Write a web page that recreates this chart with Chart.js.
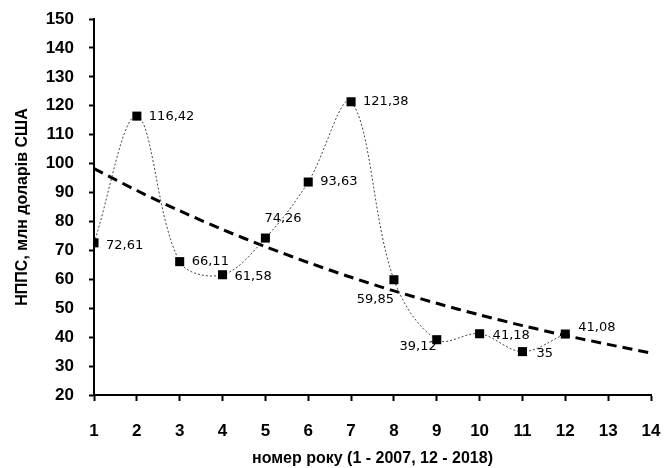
<!DOCTYPE html>
<html>
<head>
<meta charset="utf-8">
<script src="https://cdn.jsdelivr.net/npm/chart.js@4/dist/chart.umd.min.js"></script>
<style>
  html, body { margin: 0; padding: 0; background: #fff; }
  #wrap { width: 668px; height: 468px; }
</style>
</head>
<body>
<div id="wrap"><canvas id="grafico"></canvas></div>
<script>
// Дані (номер року 1 = 2007 ... 12 = 2018)
const roky = [1, 2, 3, 4, 5, 6, 7, 8, 9, 10, 11, 12];
const npps = [72.61, 116.42, 66.11, 61.58, 74.26, 93.63, 121.38, 59.85, 39.12, 41.18, 35, 41.08];

// Експоненційний тренд
const trendRoky = [1, 2, 3, 4, 5, 6, 7, 8, 9, 10, 11, 12, 13, 14];
const trend = [98.3, 90.7, 83.7, 77.2, 71.3, 65.8, 60.7, 56.0, 51.7, 47.7, 44.0, 40.6, 37.5, 34.5];

// Підписи осей
const yTicks = { min: 20, max: 150, step: 10 };
const xTicks = { min: 1, max: 14, step: 1 };

// Розташування підписів значень відносно маркерів
const pidpysy = [
    { dx: 12, dy: 3, align: 'left' },
    { dx: 12, dy: 1, align: 'left' },
    { dx: 12, dy: 0, align: 'left' },
    { dx: 12, dy: 2, align: 'left' },
    { dx: -1, dy: -19, align: 'left' },
    { dx: 12, dy: 0, align: 'left' },
    { dx: 12, dy: 0, align: 'left' },
    { dx: 0, dy: 20, align: 'right' },
    { dx: 0, dy: 7, align: 'right' },
    { dx: 13, dy: 2, align: 'left' },
    { dx: 14, dy: 2, align: 'left' },
    { dx: 13, dy: -6, align: 'left' }
];

const formatUA = (v) => String(v).replace('.', ',');

const pluginPidpysy = {
    id: 'pidpysy',
    afterDatasetsDraw(chart) {
        const ctx = chart.ctx;
        const meta = chart.getDatasetMeta(1);
        ctx.save();
        ctx.font = '13px "DejaVu Sans"';
        ctx.fillStyle = '#000';
        ctx.textBaseline = 'middle';
        meta.data.forEach((pt, i) => {
            const p = pidpysy[i];
            ctx.textAlign = p.align;
            ctx.fillText(formatUA(npps[i]), pt.x + p.dx, pt.y + p.dy);
        });
        ctx.restore();
    }
};

const fontOsi = { family: '"Liberation Sans", Arial, sans-serif', size: 17, weight: 'bold' };
const fontNazv = { family: '"Liberation Sans", Arial, sans-serif', size: 16, weight: 'bold' };

new Chart(document.getElementById('grafico').getContext('2d'), {
    type: 'line',
    data: {
        datasets: [
            {
                label: 'Тренд',
                data: trendRoky.map((x, i) => ({ x: x, y: trend[i] })),
                borderColor: '#000',
                borderWidth: 3,
                borderDash: [10, 6],
                pointRadius: 0,
                tension: 0.3,
                fill: false,
                order: 2
            },
            {
                label: 'НППС',
                data: roky.map((x, i) => ({ x: x, y: npps[i] })),
                borderColor: '#444',
                borderWidth: 1,
                borderDash: [2, 2],
                pointStyle: 'rect',
                pointRadius: 6.4,
                pointBackgroundColor: '#000',
                pointBorderColor: '#000',
                pointBorderWidth: 0,
                tension: 0.35,
                fill: false,
                order: 1
            }
        ]
    },
    options: {
        responsive: true,
        maintainAspectRatio: false,
        animation: false,
        layout: { padding: { top: 19, right: 17, left: 0, bottom: 0 } },
        plugins: {
            legend: { display: false },
            tooltip: { enabled: false }
        },
        scales: {
            x: {
                type: 'linear',
                min: xTicks.min,
                max: xTicks.max,
                ticks: {
                    stepSize: xTicks.step,
                    color: '#000',
                    font: fontOsi,
                    padding: 20,
                    maxRotation: 0
                },
                grid: {
                    drawOnChartArea: false,
                    drawTicks: true,
                    tickLength: 6,
                    tickWidth: 2,
                    tickColor: '#000'
                },
                border: { color: '#000', width: 2 },
                title: {
                    display: true,
                    text: 'номер року (1 - 2007, 12 - 2018)',
                    color: '#000',
                    font: fontNazv,
                    padding: { top: 0, bottom: 0 }
                },
                afterFit(scale) {
                    scale.height = 73;
                    scale.paddingLeft = 0;
                    scale.paddingRight = 0;
                }
            },
            y: {
                min: yTicks.min,
                max: yTicks.max,
                ticks: {
                    stepSize: yTicks.step,
                    color: '#000',
                    font: fontOsi,
                    padding: 15
                },
                grid: {
                    drawOnChartArea: false,
                    drawTicks: true,
                    tickLength: 5,
                    tickWidth: 2,
                    tickColor: '#000'
                },
                border: { color: '#000', width: 2 },
                title: {
                    display: true,
                    text: 'НППС, млн доларів США',
                    color: '#000',
                    font: fontNazv,
                    padding: { top: 13, bottom: 0 }
                },
                afterFit(scale) {
                    scale.width = 94;
                    scale.paddingTop = 0;
                    scale.paddingBottom = 0;
                }
            }
        }
    },
    plugins: [pluginPidpysy]
});
</script>
</body>
</html>
